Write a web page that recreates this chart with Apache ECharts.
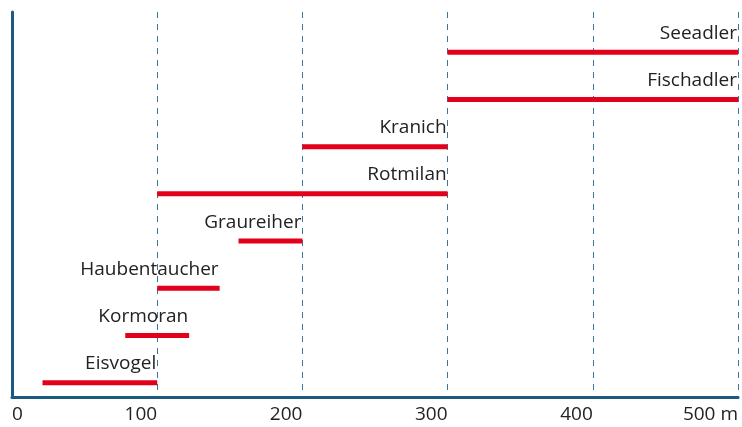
<!DOCTYPE html>
<html><head><meta charset="utf-8">
<script src="https://cdn.jsdelivr.net/npm/echarts@6/dist/echarts.min.js"></script>
<style>html,body{margin:0;padding:0;background:#fff}#c{width:742px;height:427px}</style>
</head><body><div id="c"></div>
<script>
// Data (bottom to top)
var birds = ['Eisvogel','Kormoran','Haubentaucher','Graureiher','Rotmilan','Kranich','Fischadler','Seeadler'];
var startM = [21, 78, 100, 156, 100, 200, 300, 300];
var endM   = [100, 122, 143, 200, 300, 300, 500, 500];
var xTicks = [0, 100, 200, 300, 400, 500];

var data = birds.map(function(b, i){ return [startM[i], endM[i], i + 1, b]; });
var chart = echarts.init(document.getElementById('c'), null, {renderer:'canvas'});
var axisCol = '#1d5a80';
chart.setOption({
  animation:false,
  grid:{left:12, right:4, top:12, bottom:30, containLabel:false},
  xAxis:{type:'value', min:0, max:500, interval:100,
    axisLine:{show:true, lineStyle:{color:axisCol, width:3}},
    axisTick:{show:false},
    splitLine:{show:true, lineStyle:{color:'#3d7597', type:[6,6], width:1}},
    axisLabel:{color:'#222', fontSize:19, fontFamily:'Open Sans', margin:8,
      align:'right', alignMinLabel:'left', alignMaxLabel:'right',
      formatter:function(v){ return v === 500 ? '500 m' : String(v); }}
  },
  yAxis:{type:'value', min:0.7, max:8.85,
    axisLine:{show:true, lineStyle:{color:axisCol, width:3}},
    axisTick:{show:false}, axisLabel:{show:false}, splitLine:{show:false}},
  series:[{
    type:'custom',
    data:data,
    renderItem:function(params, api){
      var p0 = api.coord([api.value(0), api.value(2)]);
      var p1 = api.coord([api.value(1), api.value(2)]);
      return {type:'group', children:[
        {type:'rect', shape:{x:p0[0], y:p0[1]-2.5, width:p1[0]-p0[0], height:5},
         style:{fill:'#e2001a'}},
        {type:'text', x:p1[0]-1, y:p1[1]-19,
         style:{text:birds[params.dataIndex], fill:'#222', font:'19px "Open Sans"',
                align:'right', verticalAlign:'middle'}}
      ]};
    }
  }]
});
</script></body></html>
